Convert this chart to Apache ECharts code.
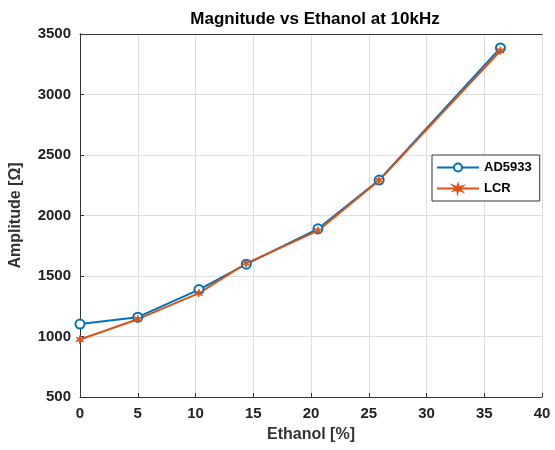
<!DOCTYPE html>
<html><head><meta charset="utf-8">
<script src="https://cdn.jsdelivr.net/npm/echarts@6/dist/echarts.min.js"></script>
<style>html,body{margin:0;padding:0;background:#fff}#c{width:555px;height:450px}</style>
</head><body><div id="c"></div>
<script>
const ethanol = [0, 5, 10.3, 14.4, 20.6, 25.9, 36.4];
const ad5933 = [1103, 1160, 1388, 1598, 1890, 2293, 3385];
const lcr = [975, 1143, 1358, 1605, 1875, 2290, 3362];
const xTicks = [0, 5, 10, 15, 20, 25, 30, 35, 40];
const yTicks = [500, 1000, 1500, 2000, 2500, 3000, 3500];

const pair = (xs, ys) => xs.map((x, i) => [x, ys[i]]);
const star = 'path://M9,0 L11,7 L18,5 L12,10 L17,16 L10,13 L8,20 L7,13 L0,15 L5,9 L0,4 L7,7 Z';
const font = 'Helvetica, Arial, "Liberation Sans", sans-serif';
const chart = echarts.init(document.getElementById('c'));
chart.setOption({
  animation: false,
  textStyle: {fontFamily: font},
  title: {text: 'Magnitude vs Ethanol at 10kHz', left: 310, textAlign: 'center', top: 6,
    textStyle: {fontSize: 17, fontWeight: 'bold', color: '#000', fontFamily: font}},
  grid: {left: 79, right: 13, top: 34, bottom: 53, containLabel: false},
  legend: {left: 432, top: 155, orient: 'vertical', itemWidth: 42, itemHeight: 10, itemGap: 8,
    padding: [6, 8, 6, 4], borderColor: '#333', borderWidth: 1, backgroundColor: '#fff',
    textStyle: {fontSize: 13, fontWeight: 'bold', color: '#000', fontFamily: font},
    data: ['AD5933', 'LCR']},
  xAxis: [{type: 'value', min: 0, max: 40, interval: 5,
    name: 'Ethanol [%]', nameLocation: 'middle', nameGap: 30,
    nameTextStyle: {fontSize: 16, fontWeight: 'bold', color: '#333', fontFamily: font},
    axisLine: {show: true, lineStyle: {color: '#333'}},
    axisTick: {show: true, inside: true, length: 4, lineStyle: {color: '#333'}},
    axisLabel: {fontSize: 15, fontWeight: 'bold', color: '#222', margin: 9, formatter: v => String(v)},
    splitLine: {show: true, lineStyle: {color: '#dedede'}}},
   {type: 'value', position: 'top', min: 0, max: 40, interval: 5,
    axisLine: {show: true, lineStyle: {color: '#333'}}, axisTick: {show: false},
    axisLabel: {show: false}, splitLine: {show: false}}],
  yAxis: [{type: 'value', min: 500, max: 3500, interval: 500,
    name: 'Amplitude [Ω]', nameLocation: 'middle', nameGap: 56, nameRotate: 90,
    nameTextStyle: {fontSize: 16, fontWeight: 'bold', color: '#333', fontFamily: font},
    axisLine: {show: true, lineStyle: {color: '#333'}},
    axisTick: {show: true, inside: true, length: 4, lineStyle: {color: '#333'}},
    axisLabel: {fontSize: 15, fontWeight: 'bold', color: '#222', margin: 9, formatter: v => String(v)},
    splitLine: {show: true, lineStyle: {color: '#dedede'}}},
   {type: 'value', position: 'right', min: 500, max: 3500, interval: 500,
    axisLine: {show: true, lineStyle: {color: '#333'}}, axisTick: {show: false},
    axisLabel: {show: false}, splitLine: {show: false}}],
  series: [
    {name: 'AD5933', type: 'line', data: pair(ethanol, ad5933), symbol: 'circle', symbolSize: 9,
     color: '#0072BD', lineStyle: {width: 2, color: '#0072BD'},
     itemStyle: {color: '#fff', borderColor: '#0072BD', borderWidth: 2}},
    {name: 'LCR', type: 'line', data: pair(ethanol, lcr), symbol: star, symbolSize: 8,
     color: '#D95319', lineStyle: {width: 2, color: '#D95319'},
     itemStyle: {color: '#D95319', borderColor: '#D95319', borderWidth: 1}}
  ]
});
</script></body></html>
